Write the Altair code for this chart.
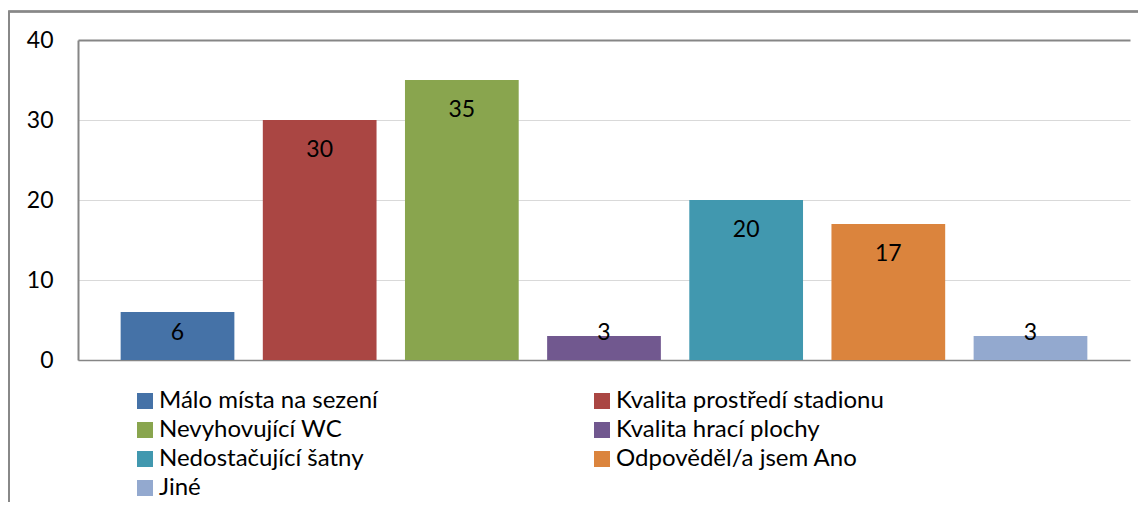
import altair as alt
import pandas as pd

categories = [
    "Málo místa na sezení",
    "Kvalita prostředí stadionu",
    "Nevyhovující WC",
    "Kvalita hrací plochy",
    "Nedostačující šatny",
    "Odpověděl/a jsem Ano",
    "Jiné",
]
values = [6, 30, 35, 3, 20, 17, 3]
colors = ["#4572A7", "#AA4643", "#89A54E", "#71588F", "#4198AF", "#DB843D", "#93A9CF"]
y_ticks = [0, 10, 20, 30, 40]

df = pd.DataFrame({"cat": categories, "val": values})

FONT = "Lato"

x = alt.X("cat:N", sort=categories,
          scale=alt.Scale(paddingInner=0.2, paddingOuter=0.3),
          axis=alt.Axis(labels=False, ticks=False, title=None, domainColor="#868686", domainWidth=1.5))
y = alt.Y("val:Q", scale=alt.Scale(domain=[0, 40], nice=False),
          axis=alt.Axis(values=y_ticks, title=None, ticks=False, labelPadding=25,
                        labelFontSize=23, labelFont=FONT, labelColor="black",
                        domainColor="#868686", domainWidth=2,
                        gridColor={"condition": {"test": "datum.value === 40", "value": "#868686"}, "value": "#d9d9d9"},
                        gridWidth={"condition": {"test": "datum.value === 40", "value": 2}, "value": 1}))

bars = alt.Chart(df).mark_bar().encode(
    x=x,
    y=y,
    color=alt.Color("cat:N", sort=categories,
                    scale=alt.Scale(domain=categories, range=colors),
                    legend=alt.Legend(title=None, orient="none", legendX=55, legendY=349,
                                      direction="horizontal", padding=0,
                                      columns=2, columnPadding=212, rowPadding=5,
                                      symbolType="square", symbolSize=256, symbolStrokeWidth=0,
                                      labelFontSize=24, labelFont=FONT, labelColor="black",
                                      labelLimit=400, symbolOffset=0, labelOffset=2)),
)

labels = alt.Chart(df).transform_calculate(
    pos="max(datum.val - 3.75, 3.4)"
).mark_text(fontSize=23, font=FONT, color="black", baseline="middle").encode(
    x=alt.X("cat:N", sort=categories),
    y=alt.Y("pos:Q"),
    text=alt.Text("val:Q"),
)

frame = alt.Chart(df).mark_rect(fill=None, stroke="#888888", strokeWidth=1.5, clip=False).encode(
    x=alt.value(-69), x2=alt.value(1300), y=alt.value(-28.5), y2=alt.value(700)
)

chart = alt.layer(frame, bars, labels).properties(
    width=1052, height=320,
    autosize=alt.AutoSizeParams(type="none"),
    padding={"left": 70, "top": 32, "right": 8, "bottom": 142},
).configure_view(stroke=None).configure_axis(grid=True).configure_axisX(grid=False)

chart.save("out.html", embed_options={"renderer": "svg", "actions": False})
